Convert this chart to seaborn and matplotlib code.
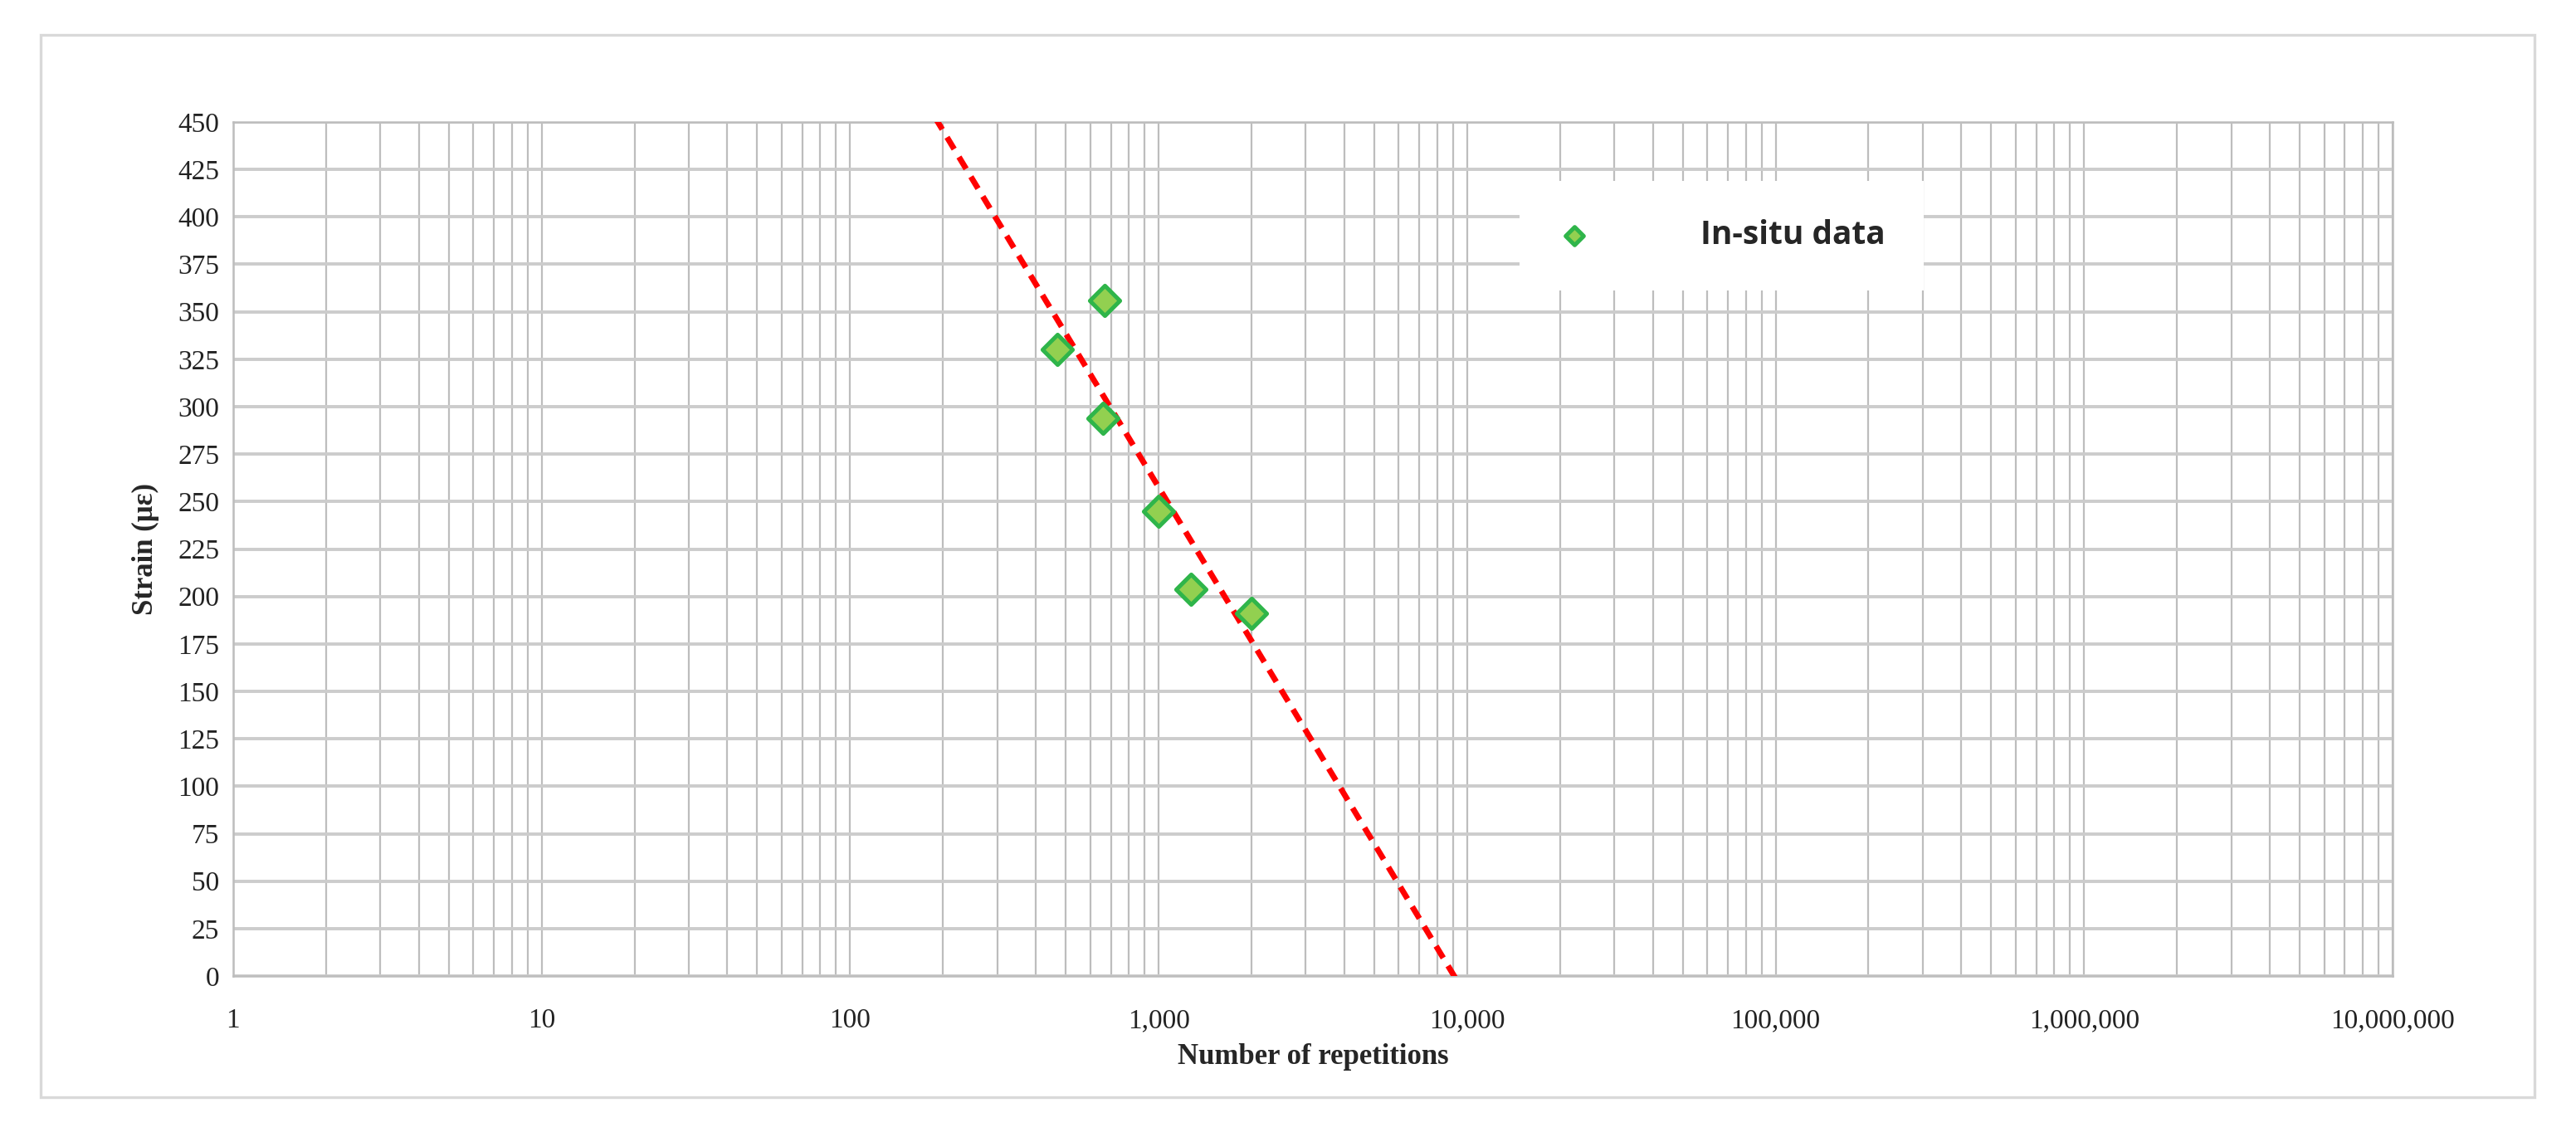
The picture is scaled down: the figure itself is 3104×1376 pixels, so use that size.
import numpy as np
import pandas as pd
import matplotlib
matplotlib.use("Agg")
import matplotlib.pyplot as plt
import seaborn as sns
from matplotlib.ticker import FuncFormatter, LogLocator, NullFormatter, FixedLocator
from matplotlib.patches import Rectangle

# in-situ points
repetitions = [470, 660, 670, 1000, 1270, 2000]
strain = [330, 294, 356, 245, 204, 191]

x_ticks = [1, 10, 100, 1000, 10000, 100000, 1000000, 10000000]
y_ticks = list(range(0, 451, 25))

df = pd.DataFrame({"Number of repetitions": repetitions, "Strain": strain})

# logarithmic trendline (like excel)
b, a = np.polyfit(np.log10(df["Number of repetitions"]), df["Strain"], 1)
trend_n = np.array([x_ticks[0], x_ticks[-1]], dtype=float)
trend = pd.DataFrame({"N": trend_n, "fit": a + b * np.log10(trend_n)})

sns.set_theme(style="white")
plt.rcParams["font.family"] = ["Liberation Serif", "DejaVu Serif"]

fig = plt.figure(figsize=(15.52, 6.88), dpi=200)
ax = fig.add_axes([0.0905, 0.1453, 0.8383, 0.7479])

# outer chart border
fig.patches.append(Rectangle((0.0158, 0.039), 0.968, 0.9305, transform=fig.transFigure,
                             fill=False, edgecolor="#d9d9d9", lw=1.2))

sns.lineplot(data=trend, x="N", y="fit", ax=ax, color="#ff0000", lw=2.5,
             linestyle=(0, (2.4, 1.6)), legend=False, zorder=3)
sns.scatterplot(data=df, x="Number of repetitions", y="Strain", ax=ax, marker="D",
                s=85, color="#92d050", edgecolor="#2fb54a", linewidth=1.8,
                label="In-situ data", zorder=4)

ax.set_xscale("log")
ax.set_xlim(x_ticks[0], x_ticks[-1])
ax.set_ylim(y_ticks[0], y_ticks[-1])
ax.xaxis.set_major_locator(FixedLocator(x_ticks))
ax.xaxis.set_minor_locator(LogLocator(base=10, subs=range(2, 10), numticks=100))
ax.xaxis.set_minor_formatter(NullFormatter())
ax.xaxis.set_major_formatter(FuncFormatter(lambda v, p: f"{int(round(v)):,}"))
ax.set_yticks(y_ticks)

ax.grid(which="both", axis="x", color="#bdbdbd", lw=0.8)
ax.grid(which="major", axis="y", color="#cccccc", lw=1.4)
ax.set_axisbelow(True)
for s in ax.spines.values():
    s.set_color("#bdbdbd")
    s.set_linewidth(0.9)

ax.tick_params(axis="both", which="both", length=0, labelsize=12, colors="#222222")
ax.tick_params(axis="x", pad=14)
ax.tick_params(axis="y", pad=6)

ax.set_xlabel("Number of repetitions", fontsize=12.5, fontweight="bold", labelpad=4)
ax.set_ylabel("Strain (με)", fontsize=12.5, fontweight="bold", labelpad=8)

ax.legend(loc="upper left", bbox_to_anchor=(0.5836, 0.856), bbox_transform=fig.transFigure,
          frameon=True, facecolor="white", edgecolor="none", fancybox=False, framealpha=1,
          prop=dict(family="Open Sans", weight="bold", size=14), handlelength=1,
          handletextpad=3.4, borderpad=1.2, markerscale=0.6)

fig.savefig("out.png", dpi=200, facecolor="white")
